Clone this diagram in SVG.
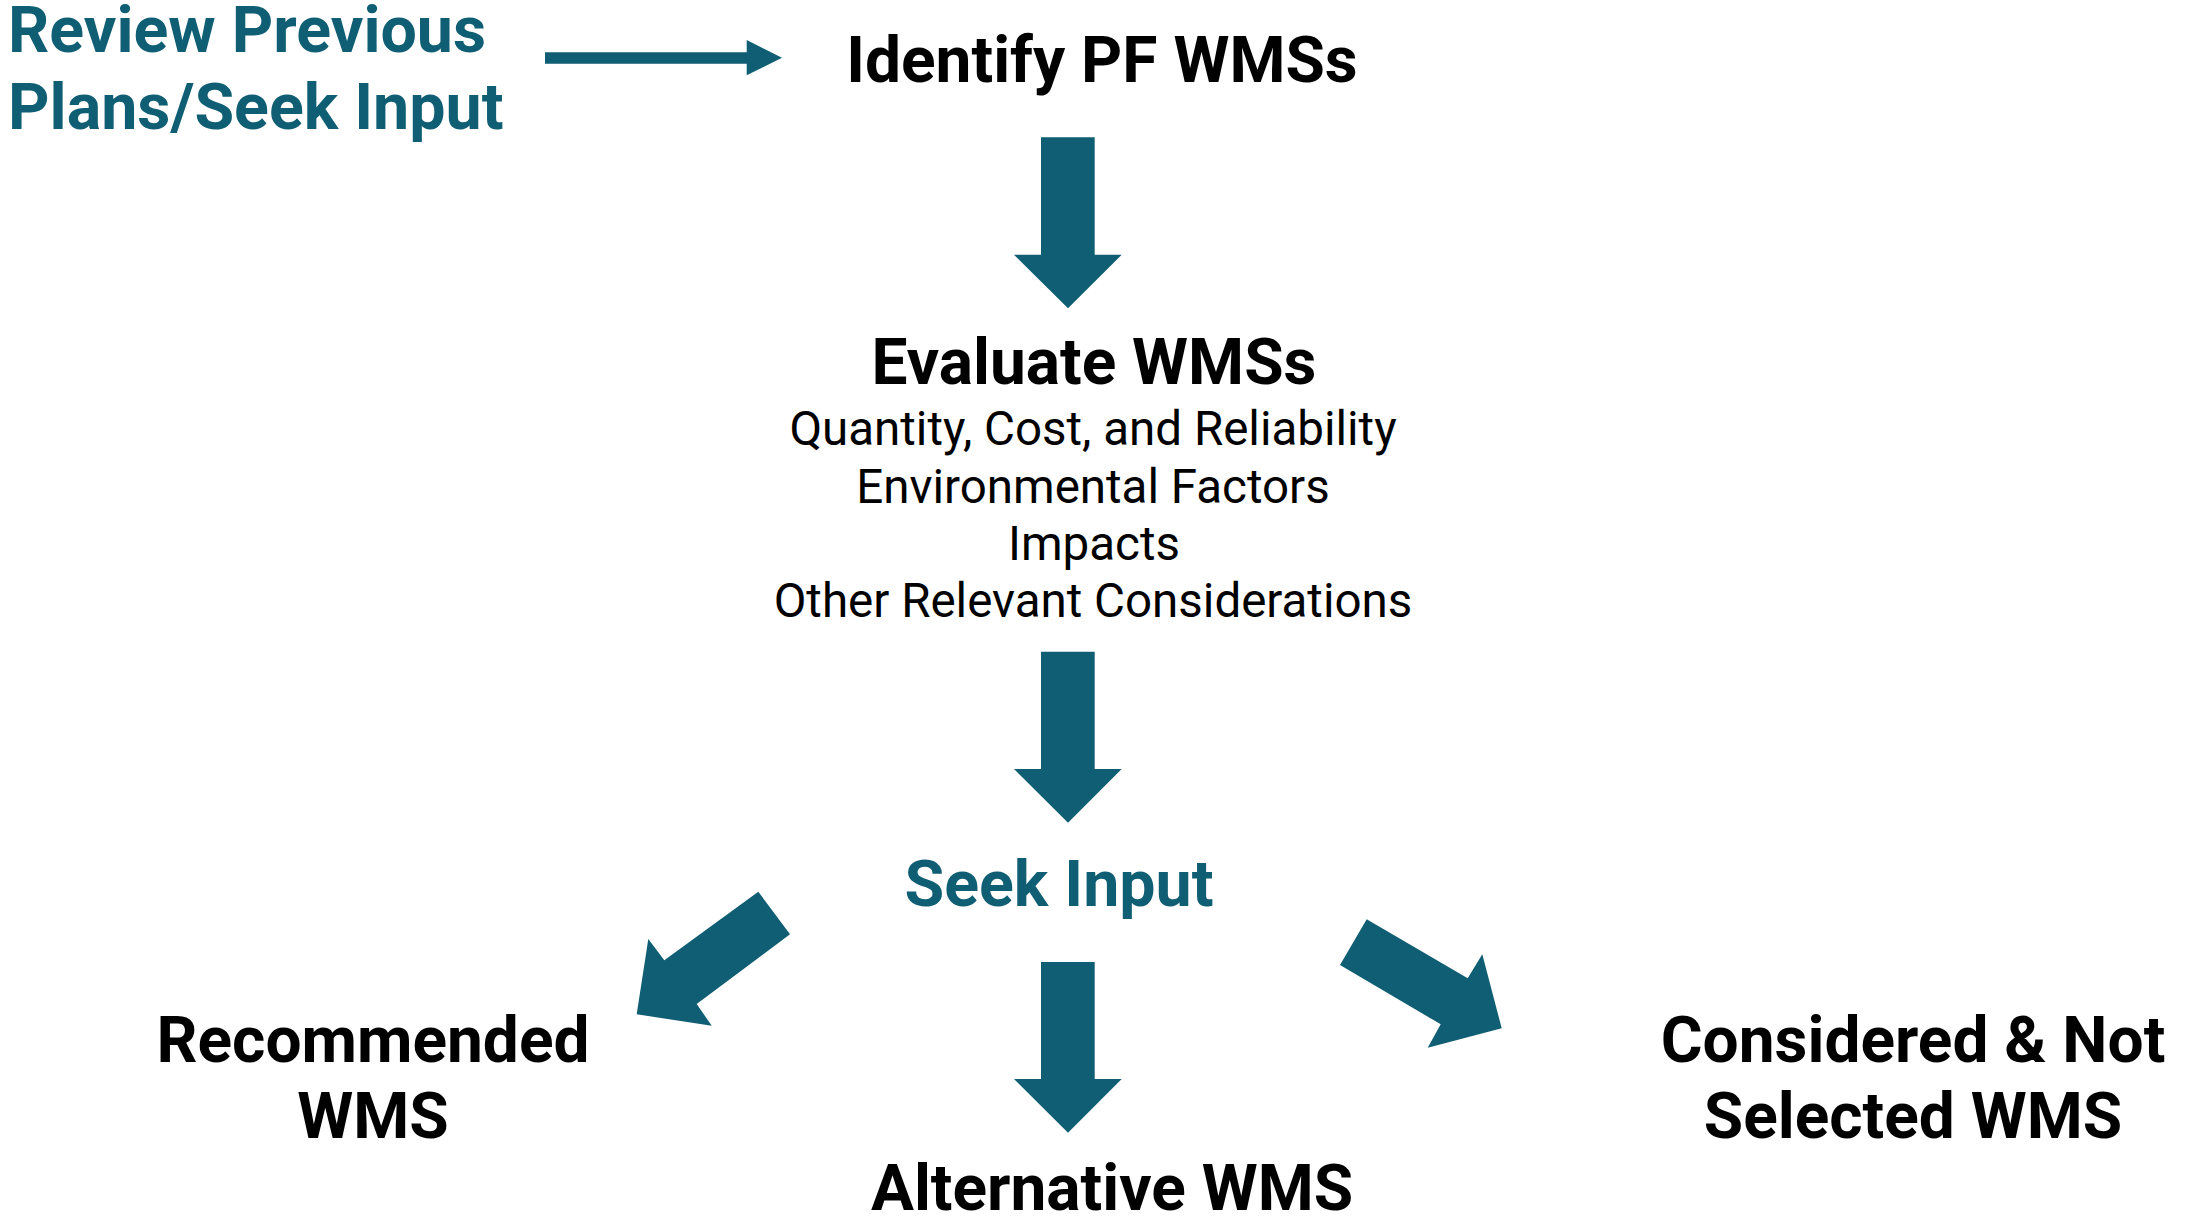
<svg xmlns="http://www.w3.org/2000/svg" width="2190" height="1217" viewBox="0 0 2190 1217">
<style>
.t{font-family:Roboto,"Liberation Sans",sans-serif;font-weight:700;fill:#000}
.teal{fill:#0f5e73}
.sub{font-family:Roboto,"Liberation Sans",sans-serif;font-weight:400;font-size:47.5px;fill:#000}
.c{text-anchor:middle}
.arrow{fill:#0f5e73;stroke:none}
</style>
<rect width="2190" height="1217" fill="#fff"/>
<g id="review">
<text class="t teal" x="8" y="52" font-size="64.5">Review Previous</text>
<text class="t teal" x="8" y="129" font-size="64.5">Plans/Seek Input</text>
</g>
<g id="identify">
<text class="t c" x="1102" y="82" font-size="64">Identify PF WMSs</text>
</g>
<g id="evaluate">
<text class="t c" x="1094" y="384" font-size="64">Evaluate WMSs</text>
<text class="sub c" x="1093" y="445">Quantity, Cost, and Reliability</text>
<text class="sub c" x="1093" y="503">Environmental Factors</text>
<text class="sub c" x="1094" y="560">Impacts</text>
<text class="sub c" x="1093" y="617">Other Relevant Considerations</text>
</g>
<g id="seek">
<text class="t teal c" x="1059" y="906" font-size="64.5">Seek Input</text>
</g>
<g id="recommended">
<text class="t c" x="373" y="1062" font-size="64">Recommended</text>
<text class="t c" x="373" y="1138" font-size="64">WMS</text>
</g>
<g id="alternative">
<text class="t c" x="1112" y="1210" font-size="64">Alternative WMS</text>
</g>
<g id="considered">
<text class="t c" x="1913" y="1062" font-size="64">Considered &amp; Not</text>
<text class="t c" x="1913" y="1138" font-size="64">Selected WMS</text>
</g>
<g id="connectors">
<polygon class="arrow" points="545,52.3 746.7,52.3 746.7,40 782,57.7 746.7,75.3 746.7,63.7 545,63.7"/>
<polygon class="arrow" points="1041,137.3 1094.7,137.3 1094.7,254.7 1121.7,254.7 1068,308.3 1014,254.7 1041,254.7"/>
<polygon class="arrow" points="1041,651.7 1094.7,651.7 1094.7,769 1121.7,769 1068,822.7 1014,769 1041,769"/>
<polygon class="arrow" points="1041,962 1094.7,962 1094.7,1079 1121.7,1079 1068,1132.7 1014,1079 1041,1079"/>
<polygon class="arrow" points="758.3,891.7 790,934.3 696.7,1004 711.7,1025.7 636.7,1014.3 648.3,939 664.3,960.3"/>
<polygon class="arrow" points="1366.7,919.3 1467.7,978.3 1482.3,954.3 1501.7,1028.3 1427.7,1047.7 1440.7,1024.3 1340,965"/>
</g>
</svg>
